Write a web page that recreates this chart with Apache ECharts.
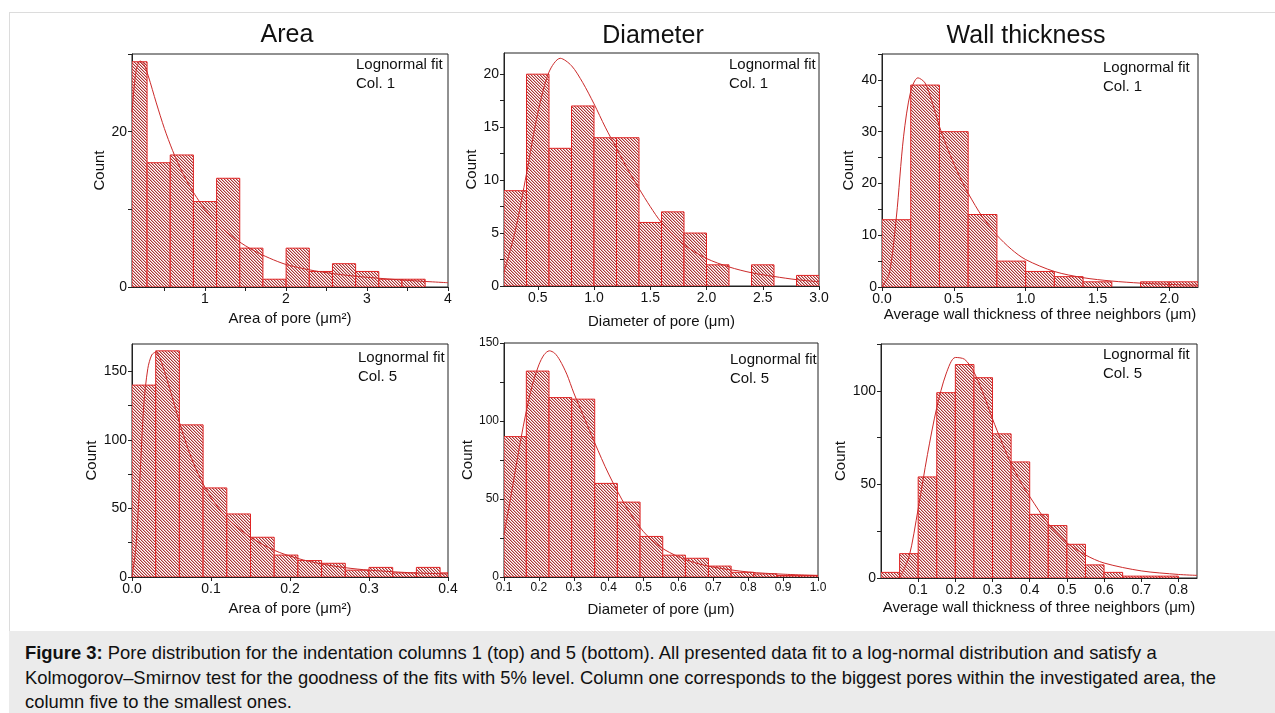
<!DOCTYPE html>
<html>
<head>
<meta charset="utf-8">
<script src="https://cdn.jsdelivr.net/npm/echarts@6/dist/echarts.min.js"></script>
<style>
  html, body { margin: 0; padding: 0; background: #fff; }
  #wrap { position: relative; width: 1275px; height: 713px; overflow: hidden; }
  #chart { position: absolute; left: 0; top: 0; width: 1275px; height: 713px; }
  #frame { position: absolute; left: 9px; top: 12px; width: 1280px; height: 619px;
           border-left: 1px solid #dcdcdc; border-top: 1px solid #dcdcdc; pointer-events: none; }
  #cap { position: absolute; left: 9px; top: 631px; width: 1266px; height: 82px; background: #ebebeb;
         box-sizing: border-box; padding: 10px 0 0 16px; font: 18.4px "Liberation Sans", Arial, sans-serif;
         line-height: 24.5px; color: #111; white-space: nowrap; }
</style>
</head>
<body>
<div id="wrap">
  <div id="chart"></div>
  <div id="frame"></div>
  <div id="cap"><b>Figure 3:</b> Pore distribution for the indentation columns 1 (top) and 5 (bottom). All presented data fit to a log-normal distribution and satisfy a<br>Kolmogorov–Smirnov test for the goodness of the fits with 5% level. Column one corresponds to the biggest pores within the investigated area, the<br>column five to the smallest ones.</div>
</div>
<script>
// ---------- DATA ----------
const columnTitles = ['Area', 'Diameter', 'Wall thickness'];
const xNames = ['Area of pore (μm²)', 'Diameter of pore (μm)', 'Average wall thickness of three neighbors (μm)'];
const legendLine1 = 'Lognormal fit';
const legendLine2 = ['Col. 1', 'Col. 5'];

// Area, column 1
const areaCol1Edges = [0, 0.286, 0.572, 0.858, 1.144, 1.43, 1.716, 2.002, 2.288, 2.574, 2.86, 3.146, 3.432, 3.718];
const areaCol1Counts = [29, 16, 17, 11, 14, 5, 1, 5, 2, 3, 2, 1, 1];
const areaCol1FitX = [0.1, 0.15, 0.2, 0.25, 0.3, 0.4, 0.5, 0.6, 0.7, 0.8, 0.9, 1.0, 1.2, 1.4, 1.6, 1.8, 2.0, 2.2, 2.4, 2.6, 2.8, 3.0, 3.5, 4.0];
const areaCol1FitY = [22.5, 27.8, 29.1, 28.6, 27.2, 23.7, 20.4, 17.6, 15.2, 13.2, 11.5, 10.0, 7.7, 6.0, 4.7, 3.7, 2.9, 2.4, 2.0, 1.7, 1.45, 1.25, 0.85, 0.55];
const areaCol1XLabels = [1, 2, 3, 4];
const areaCol1XTicks = [0.5, 1, 1.5, 2, 2.5, 3, 3.5, 4];
const areaCol1YLabels = [0, 20];
const areaCol1YTicks = [0, 10, 20, 30];

// Diameter, column 1
const diamCol1Edges = [0.2, 0.4, 0.6, 0.8, 1.0, 1.2, 1.4, 1.6, 1.8, 2.0, 2.2, 2.4, 2.6, 2.8, 3.0];
const diamCol1Counts = [9, 20, 13, 17, 14, 14, 6, 7, 5, 2, 0, 2, 0, 1];
const diamCol1FitX = [0.2, 0.3, 0.4, 0.5, 0.6, 0.7, 0.8, 0.9, 1.0, 1.1, 1.2, 1.3, 1.4, 1.5, 1.6, 1.8, 2.0, 2.2, 2.4, 2.6, 2.8, 3.0];
const diamCol1FitY = [1.3, 5.2, 10.6, 16.3, 20.2, 21.5, 20.8, 19.2, 17.2, 15.0, 13.0, 11.0, 9.2, 7.5, 6.0, 3.9, 2.6, 1.8, 1.25, 0.9, 0.6, 0.4];
const diamCol1XLabels = [0.5, 1.0, 1.5, 2.0, 2.5, 3.0];
const diamCol1XTicks = [0.5, 1.0, 1.5, 2.0, 2.5, 3.0];
const diamCol1YLabels = [0, 5, 10, 15, 20];
const diamCol1YTicks = [0, 2.5, 5, 7.5, 10, 12.5, 15, 17.5, 20];

// Wall thickness, column 1
const wallCol1Edges = [0, 0.2, 0.4, 0.6, 0.8, 1.0, 1.2, 1.4, 1.6, 1.8, 2.0, 2.2];
const wallCol1Counts = [13, 39, 30, 14, 5, 3, 2, 1, 0, 1, 1];
const wallCol1FitX = [0.0, 0.05, 0.1, 0.15, 0.2, 0.25, 0.3, 0.35, 0.4, 0.45, 0.5, 0.55, 0.6, 0.7, 0.8, 0.9, 1.0, 1.2, 1.4, 1.6, 1.8, 2.0, 2.2];
const wallCol1FitY = [0, 2.5, 13.5, 29, 37.8, 40.4, 39.4, 35.6, 31.0, 27.2, 23.8, 20.8, 18.1, 13.5, 10.0, 7.3, 5.3, 3.0, 1.8, 1.15, 0.75, 0.5, 0.35];
const wallCol1XLabels = [0, 0.5, 1.0, 1.5, 2.0];
const wallCol1XTicks = [0, 0.5, 1.0, 1.5, 2.0];
const wallCol1YLabels = [0, 10, 20, 30, 40];
const wallCol1YTicks = [0, 5, 10, 15, 20, 25, 30, 35, 40, 45];

// Area, column 5
const areaCol5Edges = [0, 0.03, 0.06, 0.09, 0.12, 0.15, 0.18, 0.21, 0.24, 0.27, 0.30, 0.33, 0.36, 0.39, 0.42];
const areaCol5Counts = [140, 165, 111, 65, 46, 29, 16, 12, 10, 5, 7, 3, 7, 3];
const areaCol5FitX = [0.0, 0.005, 0.01, 0.015, 0.02, 0.025, 0.03, 0.035, 0.04, 0.05, 0.06, 0.07, 0.08, 0.09, 0.1, 0.12, 0.15, 0.18, 0.21, 0.24, 0.27, 0.3, 0.35, 0.4];
const areaCol5FitY = [0, 22, 72, 126, 152, 162, 164, 160, 152, 133, 113, 95, 80, 68, 58, 43, 29, 19.5, 13.5, 9.5, 6.8, 5.0, 3.2, 2.2];
const areaCol5XLabels = [0, 0.1, 0.2, 0.3, 0.4];
const areaCol5XTicks = [0, 0.1, 0.2, 0.3, 0.4];
const areaCol5YLabels = [0, 50, 100, 150];
const areaCol5YTicks = [0, 25, 50, 75, 100, 125, 150];

// Diameter, column 5
const diamCol5Edges = [0.0985, 0.164, 0.229, 0.294, 0.36, 0.425, 0.49, 0.555, 0.62, 0.686, 0.751, 0.816, 0.882, 0.947, 1.012];
const diamCol5Counts = [90, 132, 115, 114, 60, 48, 26, 14, 12, 7, 3, 2, 1, 1];
const diamCol5FitX = [0.1, 0.12, 0.14, 0.16, 0.18, 0.2, 0.215, 0.23, 0.245, 0.26, 0.28, 0.3, 0.33, 0.36, 0.4, 0.45, 0.5, 0.55, 0.6, 0.65, 0.7, 0.8, 0.9, 1.0];
const diamCol5FitY = [27, 52, 78, 102, 122, 136, 142.5, 145, 143.5, 139, 130, 118, 102, 86, 66, 45, 29, 19, 13, 9, 6.3, 3.2, 1.8, 1];
const diamCol5XLabels = [0.1, 0.2, 0.3, 0.4, 0.5, 0.6, 0.7, 0.8, 0.9, 1.0];
const diamCol5XTicks = [0.1, 0.2, 0.3, 0.4, 0.5, 0.6, 0.7, 0.8, 0.9, 1.0];
const diamCol5YLabels = [0, 50, 100, 150];
const diamCol5YTicks = [0, 25, 50, 75, 100, 125, 150];

// Wall thickness, column 5
const wallCol5Edges = [0, 0.05, 0.1, 0.15, 0.2, 0.25, 0.3, 0.35, 0.4, 0.45, 0.5, 0.55, 0.6, 0.65, 0.7, 0.75, 0.8];
const wallCol5Counts = [3, 13, 54, 99, 114, 107, 77, 62, 34, 28, 18, 7, 3, 1, 1, 1];
const wallCol5FitX = [0.05, 0.075, 0.1, 0.125, 0.15, 0.175, 0.2, 0.225, 0.25, 0.275, 0.3, 0.325, 0.35, 0.375, 0.4, 0.45, 0.5, 0.55, 0.6, 0.7, 0.8, 0.85];
const wallCol5FitY = [0, 11, 37, 66, 91, 109, 117.8, 116.8, 110, 98.5, 85, 72.5, 61, 51.5, 43.5, 29, 18.8, 12.3, 8, 3.8, 1.9, 1.4];
const wallCol5XLabels = [0.1, 0.2, 0.3, 0.4, 0.5, 0.6, 0.7, 0.8];
const wallCol5XTicks = [0.1, 0.2, 0.3, 0.4, 0.5, 0.6, 0.7, 0.8];
const wallCol5YLabels = [0, 50, 100];
const wallCol5YTicks = [0, 25, 50, 75, 100, 125];

// ---------- LAYOUT / STYLE ----------
const FONT = '"Liberation Sans", Arial, Helvetica, sans-serif';
const HATCH = '#a83636';
const HATCH_SOFT = '#e2abab';
const BORDER = '#e02424';
const CURVE = '#cc2a2a';
const AXIS = '#222';

const panels = [
  { edges: areaCol1Edges, counts: areaCol1Counts, fx: areaCol1FitX, fy: areaCol1FitY, xl: areaCol1XLabels, xt: areaCol1XTicks, yl: areaCol1YLabels, yt: areaCol1YTicks,
    grid: [132, 54, 316, 233], xr: [0.1, 4], yr: [0, 30], xName: xNames[0], xGap: 24, yGap: 25, xDec: 0, lab: 14, leg: [356, 65], col: 0 },
  { edges: diamCol1Edges, counts: diamCol1Counts, fx: diamCol1FitX, fy: diamCol1FitY, xl: diamCol1XLabels, xt: diamCol1XTicks, yl: diamCol1YLabels, yt: diamCol1YTicks,
    grid: [504, 53, 315, 233], xr: [0.2, 3.0], yr: [0, 22], xName: xNames[1], xGap: 28, yGap: 25, xDec: 1, lab: 14, leg: [729, 65], col: 0 },
  { edges: wallCol1Edges, counts: wallCol1Counts, fx: wallCol1FitX, fy: wallCol1FitY, xl: wallCol1XLabels, xt: wallCol1XTicks, yl: wallCol1YLabels, yt: wallCol1YTicks,
    grid: [882, 54, 316, 233], xr: [0, 2.2], yr: [0, 45], xName: xNames[2], xGap: 19, yGap: 26, xDec: 1, lab: 14, leg: [1103, 68], col: 0 },
  { edges: areaCol5Edges, counts: areaCol5Counts, fx: areaCol5FitX, fy: areaCol5FitY, xl: areaCol5XLabels, xt: areaCol5XTicks, yl: areaCol5YLabels, yt: areaCol5YTicks,
    grid: [132, 344, 316, 233], xr: [0, 0.4], yr: [0, 170], xName: xNames[0], xGap: 24, yGap: 33, xDec: 1, lab: 14, leg: [358, 358], col: 1 },
  { edges: diamCol5Edges, counts: diamCol5Counts, fx: diamCol5FitX, fy: diamCol5FitY, xl: diamCol5XLabels, xt: diamCol5XTicks, yl: diamCol5YLabels, yt: diamCol5YTicks,
    grid: [504, 343, 314, 234], xr: [0.1, 1.0], yr: [0, 150], xName: xNames[1], xGap: 25, yGap: 29, xDec: 1, lab: 12, leg: [730, 360], col: 1 },
  { edges: wallCol5Edges, counts: wallCol5Counts, fx: wallCol5FitX, fy: wallCol5FitY, xl: wallCol5XLabels, xt: wallCol5XTicks, yl: wallCol5YLabels, yt: wallCol5YTicks,
    grid: [881, 344, 316, 234], xr: [0, 0.85], yr: [0, 125], xName: xNames[2], xGap: 22, yGap: 29, xDec: 1, lab: 14, leg: [1103, 355], col: 1 }
];
const titlePos = [[287, 35], [653, 36], [1026, 36]];

function makeHatch() {
  const P = 3;
  const c = document.createElement('canvas');
  c.width = P; c.height = P;
  const ctx = c.getContext('2d');
  ctx.fillStyle = '#ffffff'; ctx.fillRect(0, 0, P, P);
  for (let i = 0; i < P; i++) {
    ctx.fillStyle = HATCH; ctx.fillRect(i, i, 1, 1);
    ctx.fillStyle = HATCH_SOFT; ctx.fillRect((i + 1) % P, i, 1, 1);
  }
  return c;
}
const pattern = { image: makeHatch(), repeat: 'repeat' };

function renderBar(params, api) {
  const x0 = api.value(0), x1 = api.value(1), n = api.value(2);
  const a = api.coord([x0, n]), b = api.coord([x1, 0]);
  const cs = params.coordSys;
  const r = echarts.graphic.clipRectByRect(
    { x: a[0], y: a[1], width: b[0] - a[0], height: b[1] - a[1] },
    { x: cs.x, y: cs.y, width: cs.width, height: cs.height });
  if (!r) return null;
  return { type: 'rect', shape: r, style: { fill: pattern, stroke: BORDER, lineWidth: 1 } };
}

const grids = [], xAxes = [], yAxes = [], series = [], graphics = [];
panels.forEach((p, i) => {
  grids.push({ left: p.grid[0], top: p.grid[1], width: p.grid[2], height: p.grid[3], show: true,
               borderColor: AXIS, borderWidth: 1, backgroundColor: 'transparent', containLabel: false });
  xAxes.push({
    type: 'value', gridIndex: i, min: p.xr[0], max: p.xr[1],
    name: p.xName, nameLocation: 'middle', nameGap: p.xGap,
    nameTextStyle: { fontFamily: FONT, fontSize: 15, color: '#111' },
    axisLine: { show: true, lineStyle: { color: AXIS, width: 1 } },
    axisTick: { show: true, inside: false, length: 4, lineStyle: { color: AXIS }, customValues: p.xt },
    axisLabel: { show: true, margin: 5, fontFamily: FONT, fontSize: p.lab, color: '#111', customValues: p.xl,
                 formatter: v => p.xDec ? Number(v).toFixed(p.xDec) : String(Math.round(v)) },
    splitLine: { show: false }
  });
  yAxes.push({
    type: 'value', gridIndex: i, min: p.yr[0], max: p.yr[1],
    name: 'Count', nameLocation: 'middle', nameGap: p.yGap,
    nameTextStyle: { fontFamily: FONT, fontSize: 15, color: '#111' },
    axisLine: { show: true, lineStyle: { color: AXIS, width: 1 } },
    axisTick: { show: true, inside: false, length: 4, lineStyle: { color: AXIS }, customValues: p.yt },
    axisLabel: { show: true, margin: 5, fontFamily: FONT, fontSize: p.lab, color: '#111', customValues: p.yl,
                 formatter: v => String(Math.round(v)) },
    splitLine: { show: false }
  });
  const bars = p.edges.slice(0, -1).map((e, k) => [e, p.edges[k + 1], p.counts[k]]).filter(d => d[2] > 0);
  series.push({ type: 'custom', xAxisIndex: i, yAxisIndex: i, renderItem: renderBar,
                encode: { x: [0, 1], y: 2 }, data: bars, clip: true, silent: true });
  series.push({ type: 'line', xAxisIndex: i, yAxisIndex: i, data: p.fx.map((x, k) => [x, p.fy[k]]),
                smooth: 0.3, showSymbol: false, symbol: 'none', clip: true, silent: true,
                lineStyle: { color: CURVE, width: 1 }, z: 3 });
  graphics.push({ type: 'text', x: p.leg[0], y: p.leg[1], z: 10,
                  style: { text: legendLine1, font: '15px ' + FONT, fill: '#111', align: 'left', verticalAlign: 'middle' } });
  graphics.push({ type: 'text', x: p.leg[0], y: p.leg[1] + 18.5, z: 10,
                  style: { text: legendLine2[p.col], font: '15px ' + FONT, fill: '#111', align: 'left', verticalAlign: 'middle' } });
});
columnTitles.forEach((t, i) => {
  graphics.push({ type: 'text', x: titlePos[i][0], y: titlePos[i][1], z: 10,
                  style: { text: t, font: '25px ' + FONT, fill: '#111', align: 'center', verticalAlign: 'middle' } });
});

const chart = echarts.init(document.getElementById('chart'), null, { renderer: 'canvas' });
chart.setOption({
  animation: false,
  backgroundColor: '#ffffff',
  grid: grids, xAxis: xAxes, yAxis: yAxes, series: series, graphic: graphics
});
</script>
</body>
</html>
